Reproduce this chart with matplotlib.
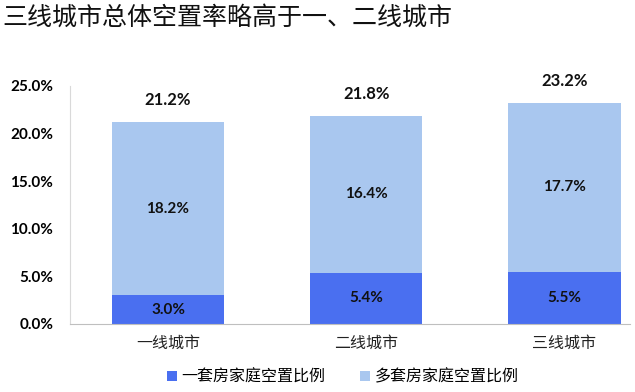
import matplotlib
matplotlib.use("Agg")
import matplotlib.pyplot as plt
from matplotlib.ticker import FuncFormatter

plt.rcParams['font.family'] = ['Noto Sans CJK SC', 'DejaVu Sans']

categories = ["一线城市", "二线城市", "三线城市"]
single = [3.0, 5.4, 5.5]
multi = [18.2, 16.4, 17.7]
totals = [21.2, 21.8, 23.2]
series_names = ["一套房家庭空置比例", "多套房家庭空置比例"]
title = "三线城市总体空置率略高于一、二线城市"

c_dark = "#4a6ff0"
c_light = "#a9c7ef"
num_font = ['Lato', 'DejaVu Sans']

fig = plt.figure(figsize=(6.35, 3.92), dpi=100)
ax = fig.add_axes([0.110, 0.1735, 0.882, 0.6075])
x = list(range(len(categories)))
w = 0.565
b1 = ax.bar(x, single, width=w, color=c_dark, label=series_names[0])
b2 = ax.bar(x, multi, width=w, bottom=single, color=c_light, label=series_names[1])

for i in x:
    ax.text(i, single[i] / 2, f"{single[i]:.1f}%", ha="center", va="center",
            fontsize=11, fontweight="bold", color="#111111", family=num_font)
    ax.text(i, single[i] + multi[i] / 2, f"{multi[i]:.1f}%", ha="center", va="center",
            fontsize=11, fontweight="bold", color="#111111", family=num_font)
    ax.annotate(f"{totals[i]:.1f}%", (i, single[i] + multi[i]), xytext=(0, 16),
                textcoords="offset points", ha="center", va="center",
                fontsize=12, fontweight="bold", color="#111111", family=num_font)

ax.set_xlim(-0.495, 2.33)
ax.set_ylim(0, 25)
ax.set_yticks([0, 5, 10, 15, 20, 25])
ax.yaxis.set_major_formatter(FuncFormatter(lambda v, p: f"{v:.1f}%"))
for lab in ax.get_yticklabels():
    lab.set_fontweight("bold")
    lab.set_fontsize(11)
    lab.set_family(num_font)
ax.set_xticks(x)
ax.set_xticklabels(categories, fontsize=11.5, color="#222222")
ax.tick_params(axis="x", length=0, pad=8)
ax.tick_params(axis="y", length=0, pad=12)
ax.spines["top"].set_visible(False)
ax.spines["right"].set_visible(False)
ax.spines["left"].set_color("#d9d9d9")
ax.spines["bottom"].set_color("#bfbfbf")

fig.text(0.003, 0.955, title, fontsize=18, fontweight="medium", ha="left", va="center", color="#111111")

fig.legend(handles=[b1, b2], labels=series_names, loc="center", bbox_to_anchor=(0.54, 0.038),
           ncol=2, frameon=False, fontsize=11.5, handlelength=0.6, handleheight=0.6,
           handletextpad=0.3, columnspacing=2.2)

fig.savefig("out.png", dpi=100)
